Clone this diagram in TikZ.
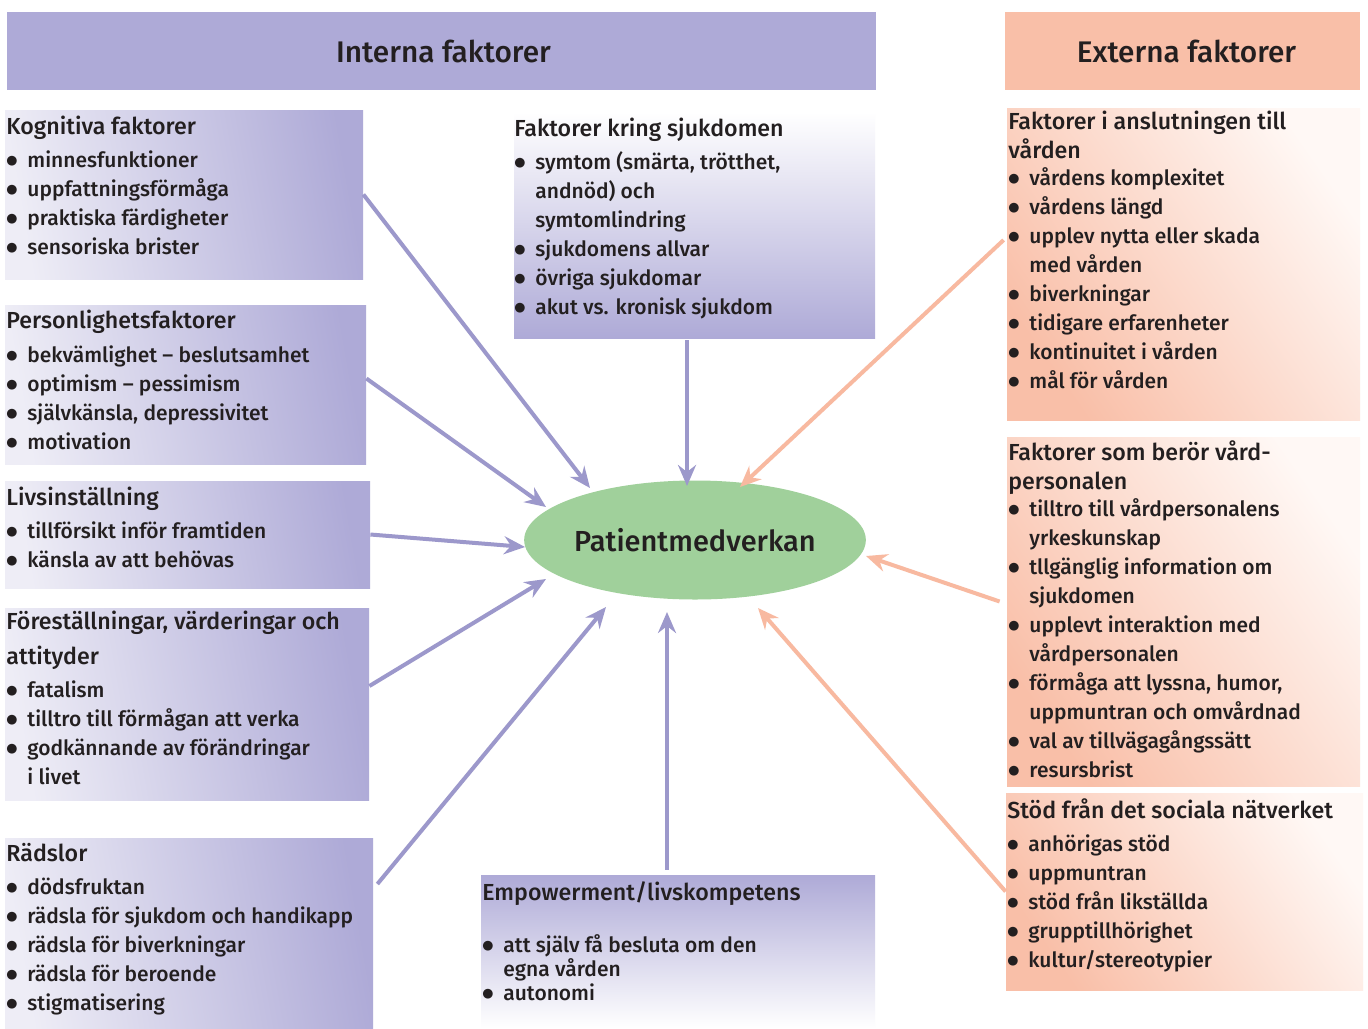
\documentclass[tikz,border=0pt]{standalone}
\usepackage{fontspec}
\setmainfont{Fira Sans Medium}
\newfontfamily\dvfont{DejaVu Sans}
\usetikzlibrary{fit,calc,arrows.meta,shapes.geometric}
\definecolor{lav}{HTML}{AEAAD7}
\definecolor{lavlight}{HTML}{EEEDF6}
\definecolor{sal}{HTML}{F9BFA8}
\definecolor{sallight}{HTML}{FFF8F5}
\definecolor{lavarrow}{HTML}{9C98CB}
\definecolor{salarrow}{HTML}{F8B9A0}
\definecolor{pmgreen}{HTML}{A0D09B}
\definecolor{ink}{HTML}{231F20}
\newcommand{\bi}{\makebox[10.5pt][l]{\raisebox{1.5pt}{\dvfont\fontsize{6.4}{6}\selectfont ●}}}
\newcommand{\ci}{\hspace*{10.5pt}}
\newcommand{\tf}{\fontsize{11.6}{14.5}\selectfont}
\begin{document}
\begin{tikzpicture}[x=0.5pt,y=-0.5pt,
  fitbox/.style={inner sep=0, draw=none},
  lbox/.style={fitbox, left color=lavlight, right color=lav, shading angle=100},
  vbox/.style={fitbox, top color=white, bottom color=lav},
  ubox/.style={fitbox, top color=lav, bottom color=white},
  rbox/.style={fitbox, top color=sallight, bottom color=sal, shading angle=-55},
  txt/.style={anchor=north west, inner sep=0, align=left, text=ink,
    font=\fontsize{10.5}{14.5}\selectfont},
  hdr/.style={text=ink, font=\fontsize{14.9}{17}\selectfont},
  larr/.style={draw=lavarrow, line width=2pt, -{Stealth[length=10.5pt,width=9pt,inset=3.5pt]}},
  sarr/.style={draw=salarrow, line width=2pt, -{Stealth[length=10.5pt,width=9pt,inset=3.5pt]}}]
\useasboundingbox (0,0) rectangle (1368,1028);
\fill[white] (0,0) rectangle (1368,1028);
% headers
\node[fitbox, fill=lav, fit={(7,12)(876,90)}] (hint) {};
\node[fitbox, fill=sal, fit={(1005,12)(1360,90)}] (hext) {};
\node[hdr] (hintt) at ($(hint.center)+(2,0)$) {Interna faktorer};
\node[hdr] (hextt) at ($(hext.center)+(4,0)$) {Externa faktorer};
% boxes
\node[lbox, fit={(5,110)(363,279)}] (kog) {};
\node[lbox, fit={(5,305)(366,464)}] (pers) {};
\node[lbox, fit={(5,481)(370,588)}] (livs) {};
\node[lbox, fit={(5,608)(369,800)}] (fore) {};
\node[lbox, fit={(5,838)(373,1028)}] (rad) {};
\node[vbox, fit={(514,112)(875,338)}] (sjuk) {};
\node[ubox, fit={(481,875)(875,1028)}] (emp) {};
\node[rbox, fit={(1007,108)(1360,420)}] (ansl) {};
\node[rbox, fit={(1007,437)(1360,786)}] (beror) {};
\node[rbox, fit={(1006,793)(1363,990)}] (stod) {};
% texts
\node[txt] (kogt) at (6,116) {{\tf Kognitiva faktorer}\\[2pt]
\bi minnesfunktioner\\
\bi uppfattningsförmåga\\
\bi praktiska färdigheter\\
\bi sensoriska brister};
\node[txt] (perst) at (6,310) {{\tf Personlighetsfaktorer}\\[2.5pt]
\bi bekvämlighet – beslutsamhet\\
\bi optimism – pessimism\\
\bi självkänsla, depressivitet\\
\bi motivation};
\node[txt] (livst) at (6,487) {{\tf Livsinställning}\\[2pt]
\bi tillförsikt inför framtiden\\
\bi känsla av att behövas};
\node[txt] (foret) at (6,611) {{\tf Föreställningar, värderingar och}\\[3pt]
{\tf attityder}\\[2pt]
\bi fatalism\\
\bi tilltro till förmågan att verka\\
\bi godkännande av förändringar\\
\ci i livet};
\node[txt] (radt) at (6,843) {{\tf Rädslor}\\[2pt]
\bi dödsfruktan\\
\bi rädsla för sjukdom och handikapp\\
\bi rädsla för biverkningar\\
\bi rädsla för beroende\\
\bi stigmatisering};
\node[txt] (sjukt) at (514,118) {{\tf Faktorer kring sjukdomen}\\[2pt]
\bi symtom (smärta, trötthet,\\
\ci andnöd) och\\
\ci symtomlindring\\
\bi sjukdomens allvar\\
\bi övriga sjukdomar\\
\bi akut vs. kronisk sjukdom};
\node[txt, font=\fontsize{10.5}{12}\selectfont] (empt) at (482,881) {{\tf Empowerment/livskompetens}\\[14pt]
\bi att själv få besluta om den\\
\ci egna vården\\
\bi autonomi};
\node[txt] (anslt) at (1008,111) {{\tf Faktorer i anslutningen till}\\
{\tf vården}\\[-1pt]
\bi vårdens komplexitet\\
\bi vårdens längd\\
\bi upplev nytta eller skada\\
\ci med vården\\
\bi biverkningar\\
\bi tidigare erfarenheter\\
\bi kontinuitet i vården\\
\bi mål för vården};
\node[txt] (berort) at (1008,440) {{\tf Faktorer som berör vård-}\\
{\tf personalen}\\[-1pt]
\bi tilltro till vårdpersonalens\\
\ci yrkeskunskap\\
\bi tllgänglig information om\\
\ci sjukdomen\\
\bi upplevt interaktion med\\
\ci vårdpersonalen\\
\bi förmåga att lyssna, humor,\\
\ci uppmuntran och omvårdnad\\
\bi val av tillvägagångssätt\\
\bi resursbrist};
\node[txt] (stodt) at (1007,798) {{\tf Stöd från det sociala nätverket}\\[2pt]
\bi anhörigas stöd\\
\bi uppmuntran\\
\bi stöd från likställda\\
\bi grupptillhörighet\\
\bi kultur/stereotypier};
% centre
\node[ellipse, fill=pmgreen, minimum width=168pt, minimum height=59.5pt, inner sep=0,
  text=ink, font=\fontsize{14.5}{17}\selectfont] (pm) at (695,540) {Patientmedverkan};
% arrows
\draw[larr] (kog.east) -- ($(pm)+(-105,-52)$);
\draw[larr] ($(pers.east)+(0,-6)$) -- ($(pm)+(-149,-33)$);
\draw[larr] (livs.east) -- ($(pm)+(-170,7)$);
\draw[larr] ($(fore.east)+(0,-18)$) -- ($(pm)+(-149,39)$);
\draw[larr] ($(rad.east)+(4,-49)$) -- ($(pm)+(-89,67)$);
\draw[larr] ($(emp.north)+(-11,-5)$) -- ($(pm)+(-28,72)$);
\draw[larr] ($(sjuk.south)+(-7.5,2)$) -- ($(pm)+(-8,-54)$);
\draw[sarr] ($(ansl.west)+(-3,-24)$) -- ($(pm)+(45,-53)$);
\draw[sarr] ($(beror.west)+(-7,-10)$) -- ($(pm)+(171,16)$);
\draw[sarr] (stod.west) -- ($(pm)+(63,68)$);
\end{tikzpicture}
\end{document}
